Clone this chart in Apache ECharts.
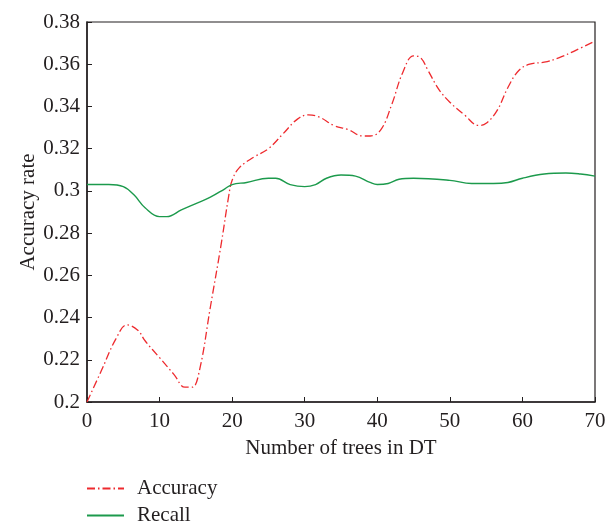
<!DOCTYPE html>
<html>
<head>
<meta charset="utf-8">
<script src="https://cdn.jsdelivr.net/npm/echarts@6/dist/echarts.min.js"></script>
<style>
  html, body { margin: 0; padding: 0; background: #fff; }
  #chart { width: 613px; height: 525px; }
</style>
</head>
<body>
<div id="chart"></div>
<script>
// values
let accX = [0, 2, 4, 5.5, 7, 8, 10, 12, 13.5, 14.5, 15.5, 17, 18.5, 19.5, 20, 21, 23, 25, 27, 29, 30.5, 32, 34, 36, 38, 39, 40.5, 42, 43.5, 45, 46, 47, 48.5, 50, 52, 54, 55, 56.5, 58, 59.5, 61, 63, 65, 67, 70]
let accY = [0.200, 0.215, 0.230, 0.2365, 0.234, 0.229, 0.221, 0.213, 0.207, 0.207, 0.215, 0.245, 0.275, 0.297, 0.305, 0.311, 0.316, 0.320, 0.327, 0.334, 0.336, 0.335, 0.331, 0.329, 0.326, 0.326, 0.329, 0.341, 0.356, 0.364, 0.363, 0.357, 0.348, 0.342, 0.336, 0.331, 0.332, 0.338, 0.349, 0.357, 0.360, 0.361, 0.363, 0.366, 0.371]
let recX = [0, 3, 5, 6.5, 8, 10, 11, 13, 15, 17, 19, 20, 22, 25, 26, 28, 30, 31.5, 33, 35, 37, 39, 40, 41.5, 43, 45, 50, 53, 56, 58, 60, 63, 66, 68, 70]
let recY = [0.303, 0.303, 0.302, 0.298, 0.292, 0.2878, 0.2878, 0.291, 0.294, 0.297, 0.301, 0.303, 0.304, 0.306, 0.306, 0.303, 0.302, 0.303, 0.306, 0.3075, 0.307, 0.304, 0.303, 0.3035, 0.3055, 0.306, 0.305, 0.3035, 0.3035, 0.304, 0.306, 0.308, 0.3085, 0.308, 0.307]

let pairs = (xs, ys) => xs.map((x, i) => [x, ys[i]])

let font = '"Liberation Serif", "DejaVu Serif", serif'
let axisColor = '#231f20'
let fs = 21

let legendBox = (name, top) => ({
  orient: 'vertical',
  left: 81, top: top,
  itemWidth: 37, itemHeight: 10,
  itemStyle: { opacity: 0 },
  textStyle: { fontFamily: font, fontSize: fs, color: axisColor, padding: [0, 0, 0, 8] },
  data: [name]
})

let chart = echarts.init(document.getElementById('chart'))
chart.setOption({
  animation: false,
  textStyle: { fontFamily: font },
  grid: {
    left: 87, right: 18, top: 22, bottom: 123,
    show: true, borderColor: axisColor, borderWidth: 1.2
  },
  legend: [legendBox('Accuracy', 473), legendBox('Recall', 500)],
  xAxis: {
    type: 'value', min: 0, max: 70, interval: 10,
    name: 'Number of trees in DT', nameLocation: 'middle', nameGap: 36,
    nameTextStyle: { fontFamily: font, fontSize: fs, color: axisColor },
    axisLine: { lineStyle: { color: axisColor, width: 1.5 } },
    axisTick: { inside: true, length: 5, lineStyle: { color: axisColor } },
    axisLabel: { fontFamily: font, fontSize: fs, color: axisColor, margin: 9 },
    splitLine: { show: false }
  },
  yAxis: {
    type: 'value', min: 0.2, max: 0.38, interval: 0.02,
    name: 'Accuracy rate', nameLocation: 'middle', nameGap: 48,
    nameMoveOverlap: false,
    nameTextStyle: { fontFamily: font, fontSize: fs, color: axisColor },
    axisLine: { show: true, lineStyle: { color: axisColor, width: 1.5 } },
    axisTick: { show: true, inside: true, length: 5, lineStyle: { color: axisColor } },
    axisLabel: {
      fontFamily: font, fontSize: fs, color: axisColor, margin: 7,
      formatter: v => String(parseFloat(v.toFixed(2)))
    },
    splitLine: { show: false }
  },
  series: [
    {
      name: 'Accuracy', type: 'line', smooth: 0.4, symbol: 'none',
      data: pairs(accX, accY),
      itemStyle: { color: '#ee2a2e' },
      lineStyle: { color: '#ee2a2e', width: 1.3, type: [8, 3, 1.5, 3] }
    },
    {
      name: 'Recall', type: 'line', smooth: 0.4, symbol: 'none',
      data: pairs(recX, recY),
      itemStyle: { color: '#1c9a4c' },
      lineStyle: { color: '#1c9a4c', width: 1.4 }
    }
  ]
})
</script>
</body>
</html>
